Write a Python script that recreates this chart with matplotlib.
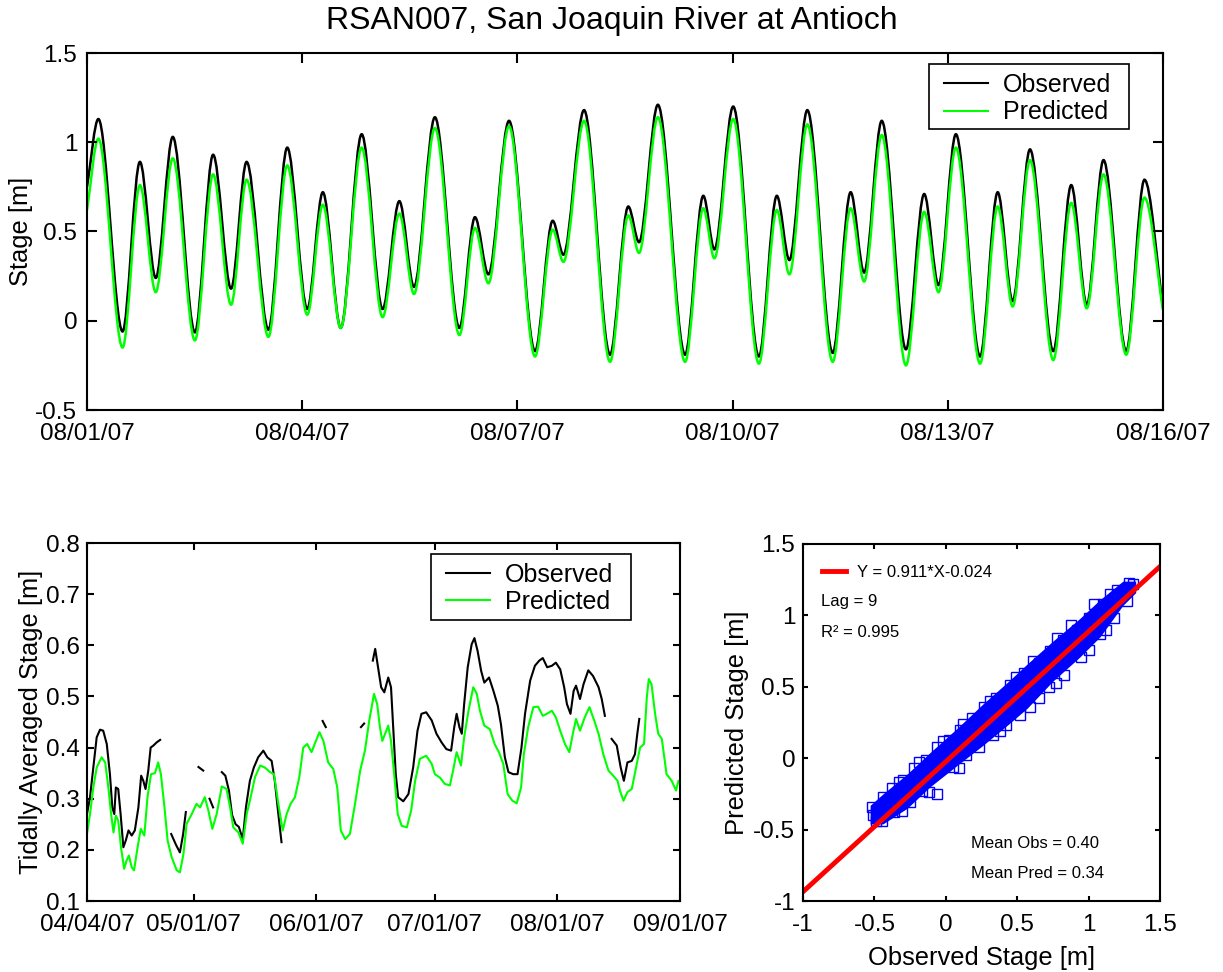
import numpy as np
import matplotlib
matplotlib.use("Agg")
import matplotlib.pyplot as plt
import matplotlib.dates as mdates
from matplotlib.path import Path
from matplotlib.patches import PathPatch, Rectangle
from matplotlib.lines import Line2D
from matplotlib.ticker import FormatStrFormatter
from datetime import datetime

plt.rcParams['font.family'] = ['Liberation Sans', 'DejaVu Sans']
plt.rcParams['axes.unicode_minus'] = False

# ---------------- data ----------------
title = "RSAN007, San Joaquin River at Antioch"

# Top panel: tidal extrema, hours since 2007-08-01 00:00
tide_hours = [0, 3.8, 11.9, 17.7, 23.0, 28.7, 36.1, 42.2, 48.2, 53.4,
              60.7, 67.0, 73.7, 78.9, 84.9, 91.9, 98.9, 104.5, 109.4, 116.4,
              124.6, 129.8, 134.3, 141.2, 149.9, 155.8, 159.4, 166.3, 175.0, 181.1,
              184.7, 191.0, 200.1, 206.2, 209.9, 216.2, 224.8, 230.8, 235.0, 241.0,
              249.5, 255.5, 260.0, 265.9, 274.0, 280.1, 284.9, 290.7, 298.8, 304.7,
              309.7, 315.5, 323.3, 329.3, 334.5, 340.1, 347.7, 353.8, 360.0]
tide_obs = [0.75, 1.13, -0.06, 0.89, 0.24, 1.03, -0.065, 0.93, 0.18, 0.89,
            -0.05, 0.97, 0.066, 0.72, -0.04, 1.045, 0.066, 0.67, 0.19, 1.14,
            -0.04, 0.58, 0.26, 1.12, -0.17, 0.56, 0.37, 1.18, -0.19, 0.64,
            0.44, 1.21, -0.19, 0.70, 0.40, 1.20, -0.20, 0.70, 0.34, 1.18,
            -0.18, 0.72, 0.27, 1.12, -0.16, 0.71, 0.20, 1.045, -0.20, 0.72,
            0.11, 0.96, -0.17, 0.76, 0.09, 0.90, -0.17, 0.79, 0.075]
tide_pred = [0.62, 1.02, -0.15, 0.76, 0.16, 0.91, -0.11, 0.82, 0.09, 0.79,
             -0.09, 0.87, 0.034, 0.65, -0.04, 0.97, 0.02, 0.60, 0.15, 1.08,
             -0.08, 0.52, 0.21, 1.09, -0.20, 0.51, 0.33, 1.12, -0.23, 0.59,
             0.38, 1.14, -0.23, 0.63, 0.35, 1.13, -0.24, 0.62, 0.26, 1.10,
             -0.23, 0.63, 0.22, 1.04, -0.25, 0.61, 0.16, 0.97, -0.24, 0.64,
             0.08, 0.90, -0.22, 0.66, 0.07, 0.82, -0.19, 0.69, 0.06]
top_ticks = ["2007-08-01", "2007-08-04", "2007-08-07", "2007-08-10", "2007-08-13", "2007-08-16"]

# Bottom-left: tidally averaged stage, days since 2007-04-04 (nan = gap)
avg_obs_day = [0.0, 0.76, 1.6, 2.45, 3.3, 4.1, 5.0, 5.8, 6.4, 6.9, 7.3, 7.9, 8.5, 9.2, 9.8,
               10.5, 11.3, 12.1, 13.0, 13.7, 14.25, 14.8, 15.5, 16.1, 16.8, 17.6, 18.5, 19.5,
               21.3, 22.5, 23.5, 24.3, 25.0, 26.0,
               28.2, 29.4, 30.0,
               31.0, 31.9, 33.0,
               34.1, 35.0, 35.9, 36.7, 37.6, 38.4, 39.4, 40.2, 41.2, 42.2, 43.3, 44.6, 45.6,
               46.7, 47.5, 48.4, 49.2, 50.0,
               59.6, 60.4, 61.0,
               69.3, 70.1, 71.0,
               72.3, 72.9, 73.5, 74.4, 75.2, 76.2, 76.9, 77.5, 78.1, 78.7, 80.0, 81.3, 82.5,
               83.6, 84.6, 85.8, 87.2, 88.4, 89.7, 90.9, 92.1, 92.9, 93.5, 94.2, 94.8, 95.4,
               96.3, 97.3, 98.0, 98.8, 99.7, 100.5, 101.7, 102.8, 103.9, 104.7, 105.7, 106.6,
               107.8, 108.9, 109.9, 110.8, 112.1, 113.3, 114.4, 115.3, 116.4, 117.6, 118.6,
               119.7, 120.7, 121.4, 122.3, 123.1, 123.7, 124.7, 125.6, 126.8, 128.0, 129.4,
               130.2, 131.0, 132.0,
               132.7, 134.0, 135.0, 135.8, 136.7, 137.8, 138.6, 139.2, 139.7]
avg_obs_val = [0.27, 0.303, 0.361, 0.42, 0.435, 0.433, 0.407, 0.348, 0.283, 0.27, 0.322, 0.319,
               0.27, 0.205, 0.218, 0.238, 0.228, 0.238, 0.283, 0.345, 0.335, 0.319, 0.355, 0.40,
               0.404, 0.41, 0.415, np.nan,
               0.231, 0.21, 0.195, 0.23, 0.274, np.nan,
               0.362, 0.355, np.nan,
               0.30, 0.283, np.nan,
               0.352, 0.345, 0.316, 0.268, 0.25, 0.245, 0.221, 0.283, 0.335, 0.361, 0.381,
               0.394, 0.381, 0.374, 0.335, 0.27, 0.215, np.nan,
               0.452, 0.44, np.nan,
               0.44, 0.447, np.nan,
               0.57, 0.593, 0.563, 0.518, 0.508, 0.537, 0.518, 0.433, 0.348, 0.303, 0.295,
               0.309, 0.361, 0.433, 0.466, 0.469, 0.453, 0.427, 0.41, 0.397, 0.394, 0.44,
               0.466, 0.44, 0.427, 0.485, 0.557, 0.602, 0.614, 0.589, 0.55, 0.527, 0.537,
               0.511, 0.482, 0.446, 0.381, 0.352, 0.348, 0.348, 0.40, 0.466, 0.531, 0.56,
               0.57, 0.575, 0.557, 0.56, 0.566, 0.553, 0.518, 0.485, 0.466, 0.511, 0.521,
               0.495, 0.524, 0.551, 0.54, 0.518, 0.495, 0.462, np.nan,
               0.417, 0.404, 0.361, 0.335, 0.371, 0.374, 0.387, 0.427, 0.456]
avg_pred_day = [0.0, 0.76, 1.6, 2.45, 3.7, 4.6, 5.4, 6.1, 6.7, 7.3, 7.9, 8.6, 9.4, 10.0, 10.6,
                11.3, 11.9, 12.8, 13.6, 14.5, 15.3, 16.2, 17.2, 18.0, 18.7, 19.6, 20.4, 21.4,
                22.7, 23.5, 24.4, 25.2, 26.5, 27.7, 28.6, 29.8, 30.7, 31.7, 32.8, 34.1, 35.3,
                36.2, 37.0, 38.3, 39.4, 40.4, 41.4, 42.5, 43.8, 45.0, 46.3, 47.3, 48.4, 49.5,
                50.5, 51.5, 52.6, 53.7, 54.7, 55.7, 56.8, 57.9, 58.8, 59.8, 61.0, 62.3, 63.3,
                64.2, 65.3, 66.5, 67.8, 69.1, 70.3, 71.4, 72.6, 73.4, 74.1, 74.7, 75.4, 76.2,
                76.9, 77.7, 78.6, 79.6, 80.9, 82.0, 83.0, 84.2, 85.8, 87.2, 88.0, 89.3, 90.5,
                91.8, 92.6, 93.5, 94.6, 95.4, 96.5, 97.7, 98.6, 99.4, 100.5, 101.9, 103.1,
                104.2, 105.3, 106.4, 107.6, 108.7, 109.8, 110.5, 111.6, 112.9, 114.1, 115.3,
                116.3, 117.6, 118.6, 119.7, 120.9, 122.0, 122.9, 123.7, 124.7, 125.9, 127.1,
                128.3, 129.4, 130.6, 131.9, 133.1, 134.2, 134.8, 135.7, 136.7, 137.8, 138.9,
                139.9, 140.9, 141.6, 142.1, 142.8, 143.7, 144.5, 145.4, 146.6, 147.9, 149.0,
                149.6, 150.0]
avg_pred_val = [0.231, 0.27, 0.322, 0.361, 0.381, 0.371, 0.322, 0.27, 0.234, 0.267, 0.257, 0.205,
                0.163, 0.179, 0.189, 0.166, 0.16, 0.205, 0.241, 0.228, 0.303, 0.348, 0.35,
                0.371, 0.348, 0.283, 0.218, 0.186, 0.16, 0.156, 0.192, 0.251, 0.27, 0.29, 0.283,
                0.303, 0.277, 0.241, 0.27, 0.324, 0.319, 0.283, 0.244, 0.234, 0.212, 0.27,
                0.303, 0.342, 0.365, 0.361, 0.352, 0.348, 0.29, 0.238, 0.27, 0.29, 0.303,
                0.342, 0.40, 0.407, 0.391, 0.413, 0.43, 0.413, 0.371, 0.358, 0.322, 0.238,
                0.221, 0.231, 0.29, 0.355, 0.394, 0.453, 0.505, 0.485, 0.44, 0.413, 0.427,
                0.443, 0.413, 0.348, 0.27, 0.247, 0.244, 0.277, 0.335, 0.378, 0.384, 0.368,
                0.348, 0.341, 0.329, 0.326, 0.355, 0.391, 0.365, 0.42, 0.472, 0.518, 0.505,
                0.472, 0.443, 0.436, 0.407, 0.391, 0.368, 0.309, 0.296, 0.291, 0.322, 0.387,
                0.44, 0.479, 0.48, 0.462, 0.466, 0.472, 0.459, 0.433, 0.407, 0.391, 0.427,
                0.456, 0.433, 0.459, 0.479, 0.453, 0.427, 0.387, 0.355, 0.345, 0.335, 0.316,
                0.296, 0.313, 0.319, 0.361, 0.40, 0.407, 0.498, 0.534, 0.524, 0.466, 0.427,
                0.417, 0.348, 0.335, 0.316, 0.335, 0.33]
avg_ticks = ["2007-04-04", "2007-05-01", "2007-06-01", "2007-07-01", "2007-08-01", "2007-09-01"]

# Scatter panel: envelope of the dense cloud of points and edge squares
band_obs = [-0.53, -0.44, -0.27, -0.11, 0.08, 0.26, 0.43, 0.57, 0.75, 0.94, 1.08, 1.24, 1.33]
band_hi = [-0.33, -0.25, -0.11, 0.04, 0.21, 0.38, 0.53, 0.66, 0.82, 0.98, 1.11, 1.24, 1.24]
band_lo = [-0.46, -0.46, -0.35, -0.20, -0.05, 0.09, 0.23, 0.35, 0.54, 0.71, 0.85, 1.07, 1.16]
sq_obs = [-0.52, -0.51, -0.49, -0.44, -0.38, -0.30, -0.22, -0.14, -0.06, 0.02, 0.10, 0.18,
          0.27, 0.35, 0.45, 0.55, 0.65, 0.73, 0.82, 0.92, 1.00, 1.10, 1.20, 1.28, 1.31,
          -0.45, -0.36, -0.25, -0.17, -0.06, 0.05, 0.14, 0.23, 0.33, 0.42, 0.52, 0.65,
          0.72, 0.83, 0.95, 1.08, 1.18, 1.27,
          -0.33, -0.19, -0.02, 0.12, 0.31, 0.49, 0.61, 0.78, 0.88, 1.04, 1.15,
          -0.31, -0.12, 0.09, 0.38, 0.59, 0.77, 1.00, 1.12]
sq_pred = [-0.34, -0.40, -0.44, -0.27, -0.21, -0.15, -0.07, -0.01, 0.08, 0.13, 0.20, 0.28,
           0.36, 0.42, 0.51, 0.60, 0.67, 0.75, 0.83, 0.90, 0.98, 1.08, 1.18, 1.23, 1.22,
           -0.44, -0.38, -0.31, -0.23, -0.25, -0.06, 0.02, 0.08, 0.16, 0.23, 0.30, 0.42,
           0.50, 0.58, 0.71, 0.87, 0.98, 1.10,
           -0.17, -0.03, 0.12, 0.24, 0.40, 0.57, 0.68, 0.84, 0.93, 1.08, 1.15,
           -0.37, -0.24, -0.07, 0.19, 0.36, 0.53, 0.76, 0.90]
fit_slope = 0.911
fit_icpt = -0.024
fit_range = [-1.0, 1.5]
fit_label = "Y = 0.911*X-0.024"
lag_text = "Lag = 9"
r2_text = "R\u00b2 = 0.995"
mean_obs_text = "Mean Obs = 0.40"
mean_pred_text = "Mean Pred = 0.34"
sc_ticks = [-1, -0.5, 0, 0.5, 1, 1.5]

OBS_C = "black"
PRED_C = "#00ff00"
FS = 17.5      # tick labels
LFS = 18.4     # axis labels
GFS = 18       # legend

# ---------------- figure ----------------
W, H = 1223, 972
fig = plt.figure(figsize=(W / 100, H / 100), dpi=100)

def frac(l, t, r, b):
    return [l / W, 1 - b / H, (r - l) / W, (b - t) / H]

ax1 = fig.add_axes(frac(87, 53, 1163, 410))
ax2 = fig.add_axes(frac(87, 543, 680, 901))
ax3 = fig.add_axes(frac(803, 544, 1160, 901))

for ax in (ax1, ax2, ax3):
    for sp in ax.spines.values():
        sp.set_linewidth(1.5)
        sp.set_color("black")

fig.text(0.5, 1 - 21 / H, title, ha="center", va="center", fontsize=23)


def smooth_path(x, y):
    """Cubic Bezier through tidal extrema (flat tangents at interior extrema)."""
    verts = [(x[0], y[0])]
    codes = [Path.MOVETO]
    n = len(x)
    for i in range(n - 1):
        dx = x[i + 1] - x[i]
        s0 = 0.0 if i > 0 else (y[1] - y[0]) / dx
        s1 = 0.0 if i + 1 < n - 1 else (y[-1] - y[-2]) / dx
        verts += [(x[i] + dx / 3, y[i] + s0 * dx / 3),
                  (x[i + 1] - dx / 3, y[i + 1] - s1 * dx / 3),
                  (x[i + 1], y[i + 1])]
        codes += [Path.CURVE4] * 3
    return Path(verts, codes)


def boxed_legend(ax, handles, labels, frame, anchor):
    x0, y0, x1, y1 = frame
    ax.add_patch(Rectangle((x0, y0), x1 - x0, y1 - y0, transform=ax.transAxes,
                           facecolor="white", edgecolor="black", lw=1.2,
                           zorder=4.5, clip_on=False))
    leg = ax.legend(handles, labels, loc="upper left", bbox_to_anchor=anchor,
                    borderaxespad=0, borderpad=0, frameon=False, fontsize=GFS,
                    labelspacing=0.14, handlelength=1.76, handletextpad=0.6)
    leg.set_zorder(5)
    return leg


h_obs = Line2D([], [], color=OBS_C, lw=1.5)
h_pred = Line2D([], [], color=PRED_C, lw=1.5)

# ---- top panel ----
t0 = mdates.date2num(datetime(2007, 8, 1))
tx = t0 + np.array(tide_hours) / 24.0
ax1.add_patch(PathPatch(smooth_path(tx, tide_obs), fill=False, edgecolor=OBS_C, lw=1.8))
ax1.add_patch(PathPatch(smooth_path(tx, tide_pred), fill=False, edgecolor=PRED_C, lw=1.8))
ax1.set_xlim(mdates.datestr2num(top_ticks[0]), mdates.datestr2num(top_ticks[-1]))
ax1.set_ylim(-0.5, 1.5)
ax1.set_xticks([mdates.datestr2num(d) for d in top_ticks])
ax1.xaxis.set_major_formatter(mdates.DateFormatter("%m/%d/%y"))
ax1.set_yticks([-0.5, 0, 0.5, 1, 1.5])
ax1.yaxis.set_major_formatter(FormatStrFormatter("%g"))
ax1.tick_params(direction="in", top=True, right=True, length=7.5, width=1.5,
                labelsize=FS)
ax1.tick_params(axis="x", pad=9)
ax1.tick_params(axis="y", pad=7)
ax1.set_ylabel("Stage [m]", fontsize=LFS)
ax1.yaxis.set_label_coords(-0.05, 0.5)
boxed_legend(ax1, [h_obs, h_pred], ["Observed", "Predicted"],
             (0.7828, 0.7863, 0.9687, 0.9692), (0.7965, 0.9445))

# ---- bottom-left panel ----
d0 = mdates.date2num(datetime(2007, 4, 4))
ax2.plot(d0 + np.array(avg_obs_day), avg_obs_val, color=OBS_C, lw=1.5)
ax2.plot(d0 + np.array(avg_pred_day), avg_pred_val, color=PRED_C, lw=1.5)
ax2.set_xlim(mdates.datestr2num(avg_ticks[0]), mdates.datestr2num(avg_ticks[-1]))
ax2.set_ylim(0.1, 0.8)
ax2.set_xticks([mdates.datestr2num(d) for d in avg_ticks])
ax2.xaxis.set_major_formatter(mdates.DateFormatter("%m/%d/%y"))
ax2.set_yticks([0.1, 0.2, 0.3, 0.4, 0.5, 0.6, 0.7, 0.8])
ax2.yaxis.set_major_formatter(FormatStrFormatter("%g"))
ax2.tick_params(direction="in", top=True, right=True, length=5, width=1.5, labelsize=FS)
ax2.tick_params(axis="x", pad=9)
ax2.tick_params(axis="y", pad=5)
ax2.set_ylabel("Tidally Averaged Stage [m]", fontsize=LFS)
ax2.yaxis.set_label_coords(-0.075, 0.5)
boxed_legend(ax2, [h_obs, h_pred], ["Observed", "Predicted"],
             (0.5801, 0.7849, 0.9174, 0.9684), (0.6054, 0.9450))

# ---- scatter panel ----
ax3.fill_between(band_obs, band_lo, band_hi, color="#0000ff", lw=0)
ax3.plot(sq_obs, sq_pred, ls="none", marker="s", ms=6.5, mfc="none", mec="#0000ff", mew=1)
fx = np.array(fit_range)
fit_line, = ax3.plot(fx, fit_slope * fx + fit_icpt, color="#ff0000", lw=3.5)
ax3.set_xlim(-1, 1.5)
ax3.set_ylim(-1, 1.5)
ax3.set_xticks(sc_ticks)
ax3.set_yticks(sc_ticks)
ax3.xaxis.set_major_formatter(FormatStrFormatter("%g"))
ax3.yaxis.set_major_formatter(FormatStrFormatter("%g"))
ax3.tick_params(direction="in", top=True, right=True, length=3.5, width=1.5, labelsize=FS)
ax3.tick_params(axis="x", pad=9)
ax3.tick_params(axis="y", pad=5.5)
ax3.set_xlabel("Observed Stage [m]", fontsize=LFS)
ax3.xaxis.set_label_coords(0.5, -0.125)
ax3.set_ylabel("Predicted Stage [m]", fontsize=LFS)
ax3.yaxis.set_label_coords(-0.152, 0.5)
ax3.legend([fit_line], [fit_label], loc="center left", bbox_to_anchor=(0.052, 0.921),
           borderaxespad=0, borderpad=0, frameon=False, fontsize=12,
           handlelength=1.46, handletextpad=0.64)
ax3.text(0.05, 0.838, lag_text, transform=ax3.transAxes, fontsize=12, va="center", ha="left")
ax3.text(0.05, 0.753, r2_text, transform=ax3.transAxes, fontsize=12, va="center", ha="left")
ax3.text(0.47, 0.16, mean_obs_text, transform=ax3.transAxes, fontsize=12, va="center", ha="left")
ax3.text(0.47, 0.078, mean_pred_text, transform=ax3.transAxes, fontsize=12, va="center", ha="left")

fig.savefig("out.png", dpi=100)
